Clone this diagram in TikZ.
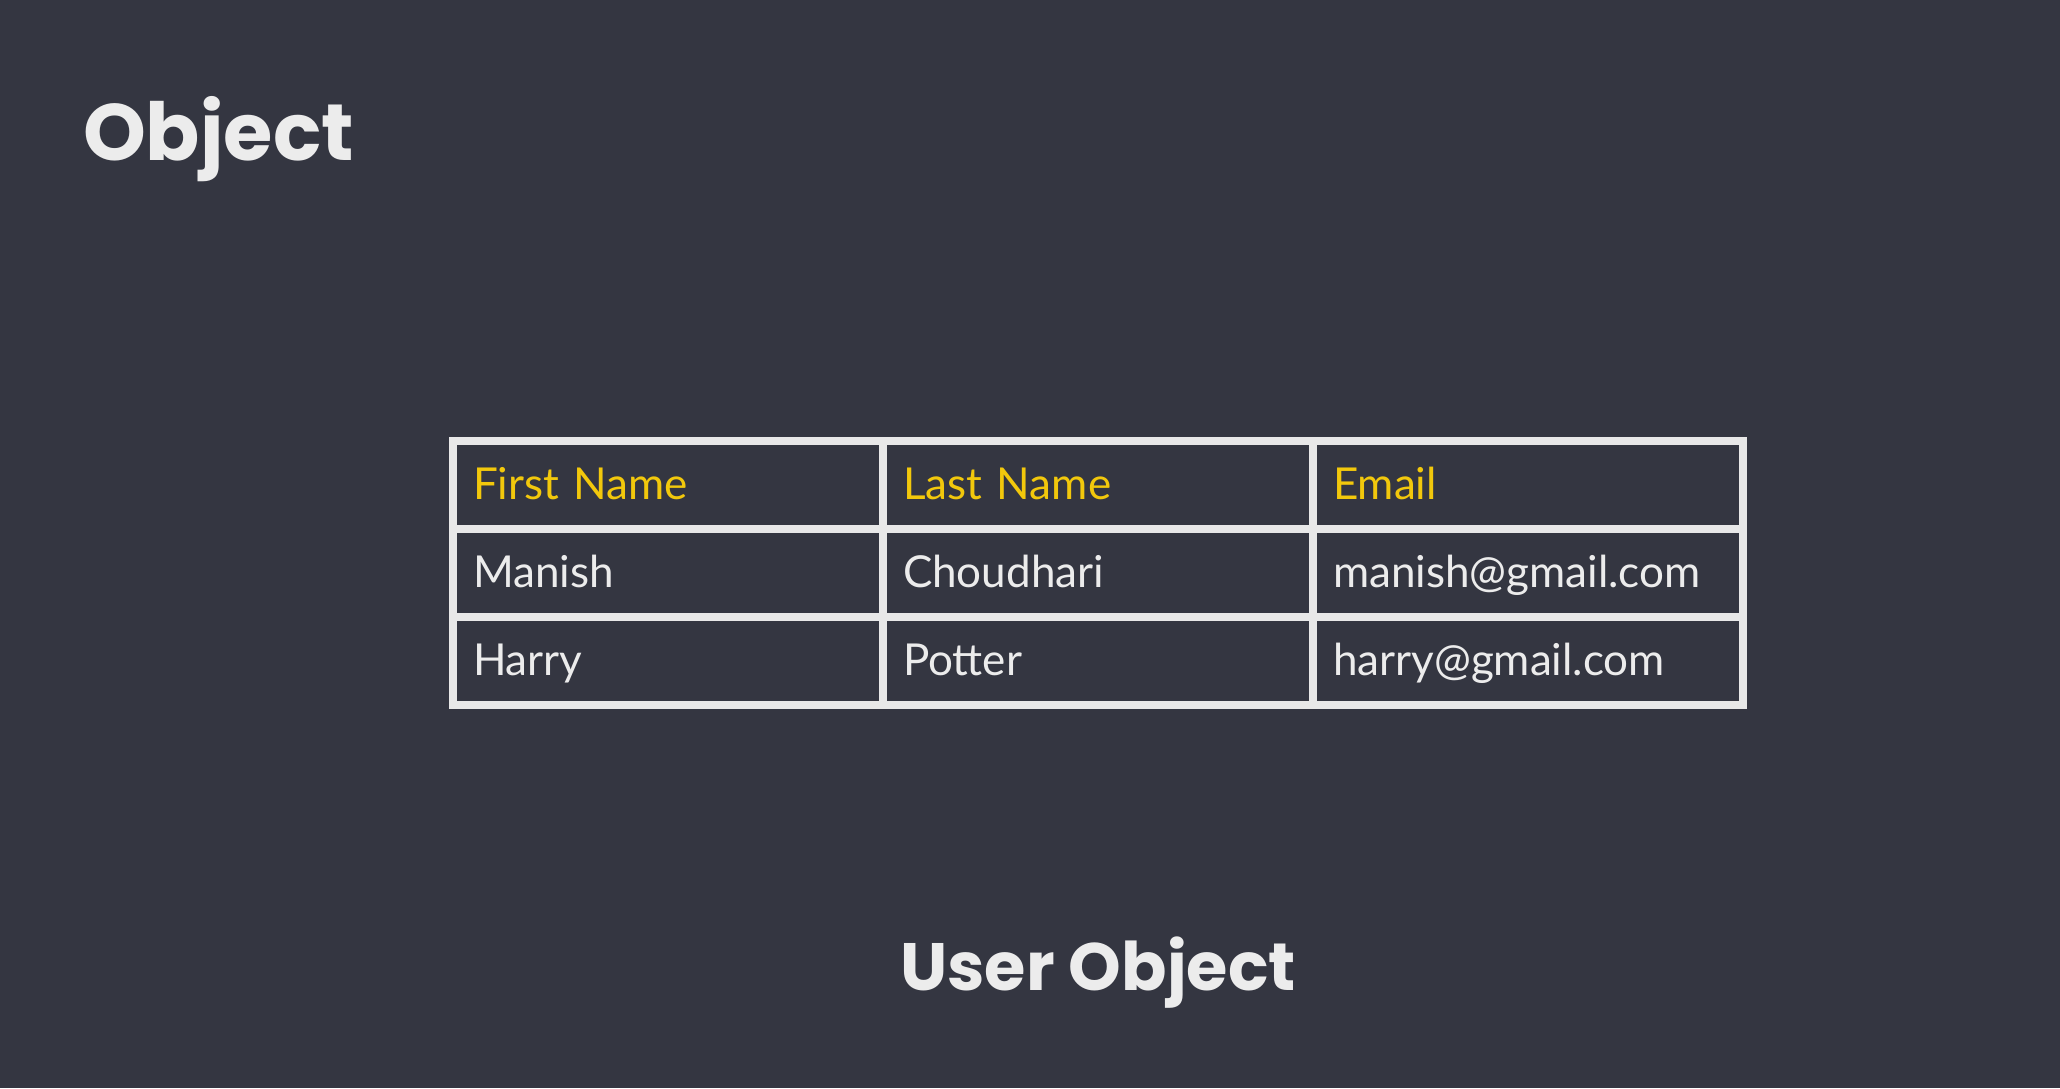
\documentclass[tikz,border=0pt]{standalone}
\usepackage{fontspec}
\setmainfont{Lato}
\newfontfamily\titlefont{Poppins}
\usepackage{tikz}
\usetikzlibrary{positioning}
\definecolor{slidebg}{RGB}{52,54,65}
\definecolor{gridline}{RGB}{232,232,232}
\definecolor{headyellow}{RGB}{242,200,12}
\definecolor{celltext}{RGB}{236,236,236}
\tikzset{
  cell/.style={draw=gridline,line width=4pt,rectangle,anchor=north west,
    text width=195pt,inner xsep=10pt,inner ysep=0pt,minimum height=44pt,
    text height=17pt,text depth=3pt,
    align=left,text=celltext,font=\fontsize{22}{26}\selectfont},
  headcell/.style={cell,text=headyellow},
  title/.style={text=celltext,font=\titlefont\bfseries}
}
\begin{document}
\begin{tikzpicture}[x=0.5pt,y=-0.5pt]
        % the slide
        \fill[slidebg] (0,0) rectangle (2060,1088);
        \useasboundingbox (0,0) rectangle (2060,1088);
        \node[title,anchor=base west,font=\titlefont\bfseries\fontsize{40}{48}\selectfont] (objtitle) at (76,160) {Object};

        %% the table
        \foreach \txt [count=\c] in {First Name,Last Name,Email}
          \node[headcell] (head-\c) at (449+430*\c-430,437) {\txt};
        \foreach \first/\last/\mail [count=\r] in {Manish/Choudhari/manish@gmail.com,Harry/Potter/harry@gmail.com}
        {
          \node[cell] (cell-\r-1) at (449,437+88*\r) {\first};
          \node[cell] (cell-\r-2) at (879,437+88*\r) {\last};
          \node[cell] (cell-\r-3) at (1309,437+88*\r) {\mail};
        }

        \node[title,font=\titlefont\bfseries\fontsize{33.5}{40}\selectfont,below=140.5pt of cell-2-2.south,anchor=base] (usertitle) {User Object};
      \end{tikzpicture}
\end{document}
